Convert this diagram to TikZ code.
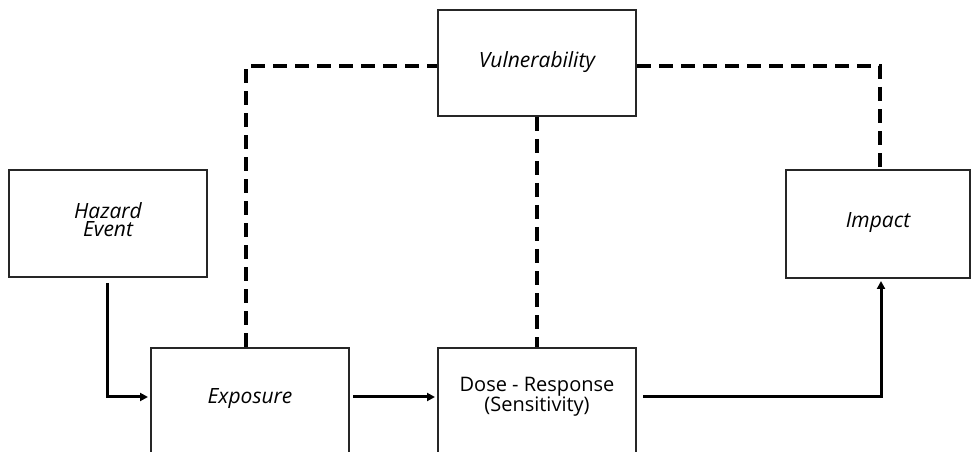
\documentclass[tikz,border=0pt]{standalone}
\usepackage{fontspec}
\setmainfont{Open Sans}
\usetikzlibrary{arrows.meta}
\begin{document}
\begin{tikzpicture}[x=1bp,y=-1bp,
  box/.style={draw=black!85, line width=2bp, rectangle, inner sep=0pt},
  lbl/.style={font=\fontsize{21bp}{18bp}\selectfont\itshape, align=center},
  plainlbl/.style={font=\fontsize{20bp}{20bp}\selectfont, align=center},
  flow/.style={line width=3bp, -{Triangle[length=8bp,width=8bp]}},
  link/.style={line width=3.2bp, dash pattern=on 14bp off 8bp}]
  \clip (0,0) rectangle (978,452);
  % boxes
  \node[box, minimum width=198bp, minimum height=107bp] (haz) at (108,223.5) {};
  \node[lbl] (hazt) at (108,220) {Hazard\\Event};
  \node[box, minimum width=198bp, minimum height=106bp] (vul) at (537,63) {};
  \node[lbl] (vult) at (537,62) {Vulnerability};
  \node[box, minimum width=184bp, minimum height=108bp] (imp) at (878,224) {};
  \node[lbl] (impt) at (878,223) {Impact};
  \node[box, minimum width=198bp, minimum height=120bp, anchor=north] (exp) at (250,347) {};
  \node[lbl] (expt) at (250,399) {Exposure};
  \node[box, minimum width=198bp, minimum height=120bp, anchor=north] (dose) at (537,347) {};
  \node[plainlbl] (doset) at (537,397) {Dose - Response\\(Sensitivity)};
  % solid flow arrows
  \coordinate (hazdrop) at (107,283);
  \draw[flow, shorten >=2bp] (hazdrop) |- (exp.west |- 0,397);
  \draw[flow, shorten >=2bp] (353,397) -- (dose.west |- 0,397);
  \draw[flow, shorten >=2bp] (643,397) -| (imp.south -| 881,0);
  % dashed links
  \draw[link] (exp.north -| 246,0) |- (vul.west |- 0,66);
  \draw[link] (vul.south) -- (dose.north);
  \draw[link] (vul.east |- 0,66) -| (imp.north -| 880,0);
\end{tikzpicture}
\end{document}
